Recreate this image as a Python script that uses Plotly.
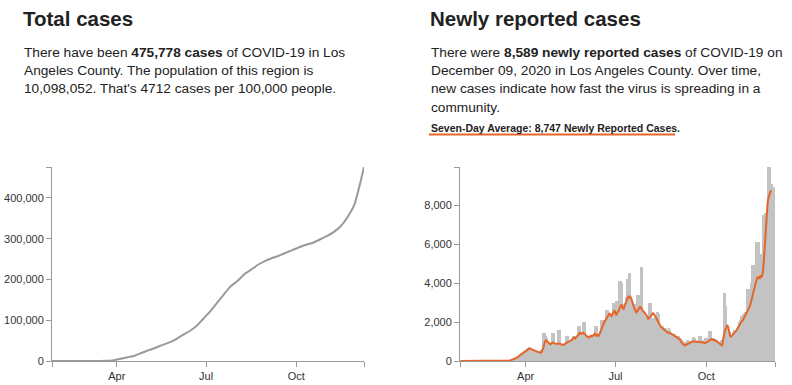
import pandas as pd
import plotly.graph_objects as go

# ---------------- data ----------------
start_date = "2020-01-26"

# Daily newly reported cases, one row per week (weeks start on Sunday, Jan 26 2020 -> Dec 9 2020)
new_cases_weeks = [
    [0, 0, 0, 1, 0, 0, 0],
    [0, 0, 0, 0, 0, 0, 0],
    [0, 0, 0, 0, 0, 0, 0],
    [0, 0, 0, 0, 0, 0, 0],
    [0, 0, 0, 0, 0, 0, 0],
    [0, 0, 1, 1, 2, 0, 2],
    [1, 3, 4, 7, 8, 12, 15],
    [25, 40, 50, 90, 100, 130, 160],
    [190, 220, 250, 300, 350, 400, 420],
    [450, 500, 480, 550, 600, 650, 700],
    [700, 620, 550, 600, 550, 500, 450],
    [450, 400, 350, 400, 500, 550, 600],
    [1450, 1450, 1450, 1300, 1200, 900, 800],
    [800, 900, 1450, 1450, 1450, 900, 800],
    [900, 1600, 1600, 1600, 900, 850, 800],
    [800, 900, 1300, 1300, 1300, 1000, 900],
    [1000, 1100, 1300, 1300, 1300, 1100, 1200],
    [1800, 1800, 1800, 1400, 1400, 2000, 2000],
    [2000, 1300, 1350, 1200, 1300, 1250, 1300],
    [1300, 1300, 1400, 1800, 1800, 1800, 1400],
    [1400, 1500, 2100, 2100, 2100, 2000, 2100],
    [2600, 2600, 2600, 2300, 2300, 2400, 2300],
    [3000, 3000, 2500, 3100, 3100, 2400, 2600],
    [4100, 4100, 4100, 4000, 2800, 2900, 3000],
    [3300, 4200, 4200, 4500, 4500, 3200, 3100],
    [3000, 2900, 2800, 2900, 3400, 3400, 3400],
    [2800, 4800, 4800, 2600, 2400, 2300, 2200],
    [2300, 2200, 3000, 3000, 3000, 2200, 2100],
    [2200, 2100, 2300, 2500, 2500, 2400, 1800],
    [1700, 1800, 1800, 1600, 1700, 1700, 1500],
    [1600, 1700, 1600, 1500, 1450, 1400, 1400],
    [1400, 1300, 1300, 1300, 1300, 1200, 1200],
    [1100, 1050, 1000, 900, 1000, 1100, 1100],
    [1050, 1000, 1050, 1100, 1250, 1250, 1200],
    [1100, 1000, 1050, 1100, 1300, 1300, 1300],
    [1100, 1000, 1100, 1200, 1100, 1200, 1000],
    [1550, 1550, 1550, 1200, 1150, 1200, 1150],
    [1150, 1100, 1000, 950, 900, 1100, 900],
    [1200, 3500, 3500, 2800, 1800, 1600, 1500],
    [1500, 1200, 1300, 1500, 1600, 1600, 1500],
    [1700, 1800, 2000, 2100, 2300, 2300, 2400],
    [2300, 2500, 2500, 3700, 3700, 3600, 3700],
    [4000, 4900, 4900, 4900, 4300, 6100, 6100],
    [6100, 6100, 4900, 5500, 5500, 7500, 7500],
    [7600, 7600, 7600, 9950, 9950, 9950, 9100],
    [9100, 8900, 8900, 8589],
]

# Seven-day average line (orange); ends Dec 6 2020
seven_day_avg_weeks = [
    [0, 0, 0, 0, 0, 0, 0],
    [0, 0, 0, 0, 0, 0, 0],
    [0, 0, 0, 0, 0, 0, 0],
    [0, 0, 0, 0, 0, 0, 0],
    [0, 0, 0, 0, 0, 0, 0],
    [0, 0, 1, 1, 1, 1, 1],
    [2, 3, 5, 7, 9, 12, 16],
    [20, 30, 40, 55, 70, 90, 110],
    [140, 170, 210, 250, 290, 330, 370],
    [410, 450, 490, 530, 560, 600, 620],
    [640, 620, 600, 580, 570, 560, 540],
    [510, 480, 440, 420, 420, 450, 550],
    [700, 900, 1050, 1050, 1000, 900, 850],
    [850, 900, 950, 950, 900, 880, 850],
    [870, 900, 900, 880, 850, 830, 820],
    [850, 900, 950, 950, 980, 1000, 1000],
    [1050, 1100, 1150, 1200, 1150, 1200, 1300],
    [1350, 1400, 1450, 1400, 1450, 1450, 1400],
    [1400, 1300, 1250, 1250, 1200, 1250, 1300],
    [1250, 1300, 1350, 1400, 1300, 1300, 1350],
    [1300, 1400, 1550, 1700, 1850, 1950, 2050],
    [2100, 2200, 2300, 2400, 2450, 2350, 2300],
    [2400, 2500, 2600, 2450, 2350, 2500, 2550],
    [2700, 2800, 2900, 2750, 2650, 2800, 2900],
    [3050, 3200, 3300, 3250, 3300, 3200, 3000],
    [2900, 2700, 2600, 2500, 2550, 2650, 2750],
    [2800, 2700, 2600, 2550, 2500, 2450, 2400],
    [2300, 2150, 2200, 2300, 2350, 2400, 2450],
    [2400, 2300, 2200, 2100, 2000, 1950, 1850],
    [1750, 1700, 1650, 1600, 1550, 1500, 1480],
    [1450, 1450, 1400, 1400, 1380, 1350, 1330],
    [1300, 1280, 1250, 1200, 1150, 1100, 1050],
    [950, 880, 830, 800, 820, 850, 880],
    [900, 920, 950, 980, 1000, 1000, 990],
    [1000, 1000, 990, 980, 980, 970, 960],
    [950, 940, 940, 930, 950, 980, 1000],
    [1050, 1100, 1120, 1100, 1080, 1060, 1050],
    [1040, 1000, 950, 900, 850, 800, 780],
    [1100, 1400, 1600, 1700, 1850, 1750, 1500],
    [1300, 1250, 1300, 1400, 1450, 1500, 1550],
    [1600, 1700, 1800, 1900, 2000, 2050, 2100],
    [2200, 2250, 2350, 2450, 2600, 2700, 2800],
    [3000, 3200, 3500, 3700, 3800, 4000, 4200],
    [4300, 4300, 4200, 4400, 4300, 4500, 5000],
    [5800, 6900, 7500, 8100, 8400, 8600, 8700],
    [8747],
]

# Cumulative (total) cases, sampled weekly from Jan 26 plus the final day (Dec 9)
total_cases_weekly = [
    1, 1, 1, 1, 1, 1, 7, 69, 409, 2100, 5300, 9200, 13000, 19500, 26000, 32000,
    39000, 45000, 53000, 63500, 73000, 85000, 103000, 121000, 142000, 163000,
    183000, 196000, 213000, 224000, 236000, 245000, 252000, 258000, 265000,
    272000, 279000, 285000, 290000, 298000, 306000, 316000, 330000, 352000,
    382000, 445000, 475778,
]
last_date = "2020-12-09"

month_tick_dates = ["2020-04-01", "2020-07-01", "2020-10-01"]
month_tick_labels = ["Apr", "Jul", "Oct"]
total_ticks = [0, 100000, 200000, 300000, 400000]
new_ticks = [0, 2000, 4000, 6000, 8000]

# ---------------- derived ----------------
new_cases = [v for w in new_cases_weeks for v in w]
seven_day_avg = [v for w in seven_day_avg_weeks for v in w]
days = pd.date_range(start_date, periods=len(new_cases), freq="D")
avg_days = days[: len(seven_day_avg)]
total_dates = list(pd.date_range(start_date, periods=len(total_cases_weekly) - 1, freq="7D")) + [pd.Timestamp(last_date)]

W, H = 792, 385
def px(x):
    return x / W
def py(y):
    return 1 - y / H

FONT = "Liberation Sans, Arial, Helvetica, sans-serif"
AX = "#9a9a9a"
TXT = "#222222"
ORANGE = "#e5662b"

fig = go.Figure()

fig.add_trace(go.Scatter(
    x=total_dates, y=total_cases_weekly, mode="lines",
    line=dict(color="#999999", width=2, shape="spline", smoothing=0.5),
    xaxis="x", yaxis="y", hoverinfo="x+y",
))
fig.add_trace(go.Bar(
    x=days, y=new_cases, marker=dict(color="#c3c3c3", line=dict(width=0)),
    xaxis="x2", yaxis="y2",
))
fig.add_trace(go.Scatter(
    x=avg_days, y=seven_day_avg, mode="lines",
    line=dict(color=ORANGE, width=2),
    xaxis="x2", yaxis="y2",
))

t0 = pd.Timestamp(start_date)
t1 = pd.Timestamp(last_date)
half = pd.Timedelta(hours=12)
ymax_total = max(total_cases_weekly)
ymax_new = max(new_cases)

common_x = dict(
    type="date", showgrid=False, zeroline=False, showline=True, linecolor=AX, linewidth=1,
    ticks="outside", ticklen=5, tickcolor=AX, tickfont=dict(family=FONT, size=11, color="#333"),
    automargin=False, fixedrange=True,
)
common_y = dict(
    showgrid=False, zeroline=False, showline=True, linecolor=AX, linewidth=1,
    ticks="outside", ticklen=5, tickcolor=AX, tickfont=dict(family=FONT, size=11, color="#333"),
    automargin=False, fixedrange=True,
)

fig.update_layout(
    width=W, height=H, margin=dict(l=0, r=0, t=0, b=0),
    paper_bgcolor="white", plot_bgcolor="white", showlegend=False,
    bargap=0, font=dict(family=FONT, color=TXT),
    xaxis=dict(common_x, domain=[px(52), px(364)], range=[t0, t1], anchor="y",
               tickvals=[t0] + month_tick_dates + [t1], ticktext=[""] + month_tick_labels + [""]),
    yaxis=dict(common_y, domain=[py(361), py(167)], range=[0, ymax_total], anchor="x",
               tickvals=total_ticks + [ymax_total], ticktext=[f"{v:,}" for v in total_ticks] + [""]),
    xaxis2=dict(common_x, domain=[px(460), px(775)], range=[t0 - half, t1 + half], anchor="y2",
                layer="below traces",
                tickvals=[t0 - half] + month_tick_dates + [t1 + half], ticktext=[""] + month_tick_labels + [""]),
    yaxis2=dict(common_y, domain=[py(361), py(167)], range=[0, ymax_new], anchor="x2",
                tickvals=new_ticks + [ymax_new], ticktext=[f"{v:,}" for v in new_ticks] + [""]),
)

def text(x, y, s, size, bold=False):
    fig.add_annotation(
        x=px(x), y=py(y), xref="paper", yref="paper", xanchor="left", yanchor="middle",
        text=f"<b>{s}</b>" if bold else s, showarrow=False,
        font=dict(family=FONT, size=size, color=TXT), align="left",
    )

text(21, 18.5, "Total cases", 20.5, bold=True)
text(22, 52, "There have been <b>475,778 cases</b> of COVID-19 in Los", 13.7)
text(22, 70.5, "Angeles County. The population of this region is", 13.7)
text(22, 89, "10,098,052. That's 4712 cases per 100,000 people.", 13.7)

text(428, 18.5, "Newly reported cases", 20.5, bold=True)
text(429, 52, "There were <b>8,589 newly reported cases</b> of COVID-19 on", 13.7)
text(429, 70.5, "December 09, 2020 in Los Angeles County. Over time,", 13.7)
text(429, 89, "new cases indicate how fast the virus is spreading in a", 13.7)
text(429, 107.5, "community.", 13.7)
text(429, 128, "Seven-Day Average: 8,747 Newly Reported Cases.", 10.5, bold=True)

fig.add_shape(type="line", xref="paper", yref="paper",
              x0=px(429), x1=px(675), y0=py(134.5), y1=py(134.5),
              line=dict(color=ORANGE, width=2))

fig.write_html("out.html", config={"displayModeBar": False, "staticPlot": False})

# remove the browser's default page margin so the figure sits at the window origin
with open("out.html", encoding="utf-8") as f:
    html = f.read()
html = html.replace("<head>", "<head><style>html,body{margin:0;padding:0;overflow:hidden;}</style>", 1)
with open("out.html", "w", encoding="utf-8") as f:
    f.write(html)
